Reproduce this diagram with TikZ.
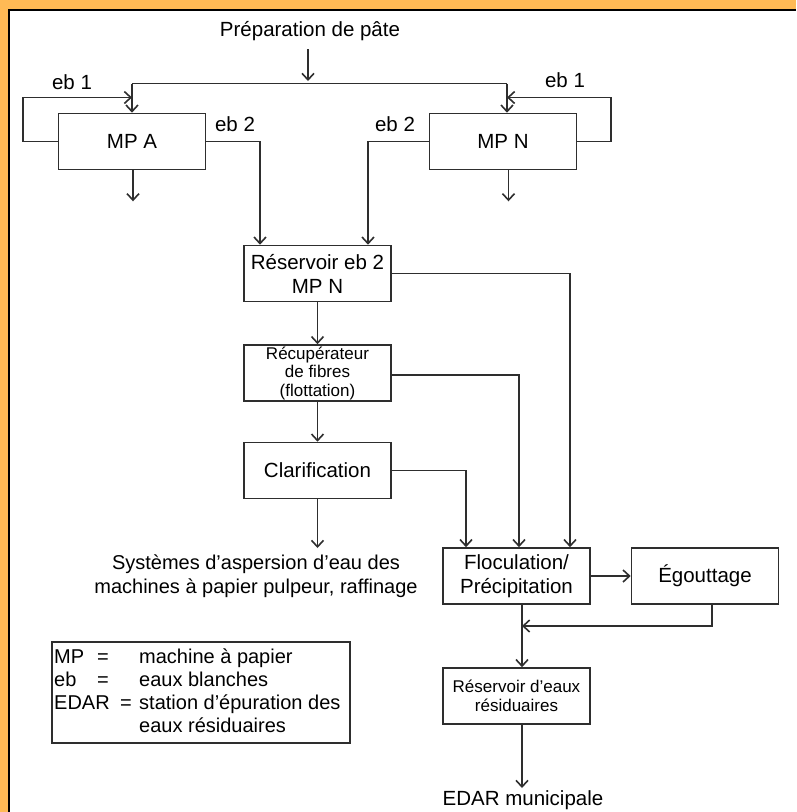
\documentclass[tikz,border=0pt]{standalone}
\usepackage{fontspec}
\setmainfont{Liberation Sans}
\usetikzlibrary{arrows.meta}
\definecolor{bgorange}{HTML}{FFBA55}
\definecolor{ln}{HTML}{2E2E2E}
\newcommand\mainfs{\fontsize{20.5}{24}\selectfont}
\newcommand\sysfs{\fontsize{20}{24}\selectfont}
\newcommand\smallfs{\fontsize{17}{18.5}\selectfont}
\newcommand\legfs{\fontsize{20}{23}\selectfont}
\begin{document}
\begin{tikzpicture}[x=1pt,y=-1pt,
  box/.style={draw=ln, line width=1.6pt, minimum width=147pt, minimum height=56pt, inner sep=1pt, align=center, font=\mainfs},
  txt/.style={inner sep=0pt, align=center, font=\mainfs},
  leg/.style={inner sep=0pt, anchor=base west, font=\legfs},
  ln/.style={draw=ln, line width=1.6pt},
  arr/.style={draw=ln, line width=1.6pt, -{Straight Barb[length=6.5pt,width=12pt]}}]
\useasboundingbox (0,0) rectangle (796,812);
\fill[bgorange] (0,0) rectangle (796,812);
\fill[white] (9,10) rectangle (796,812);
\draw[black, line width=2pt] (9,812) -- (9,10) -- (796,10);

% boxes
\node[box] (mpa) at (132,141.5) {MP A};
\node[box] (mpn) at (503,141.5) {MP N};
\node[box] (res) at (317.5,273.5) {Réservoir eb 2\\MP N};
\node[box,font=\smallfs] (rec) at (317.5,373) {Récupérateur\\de fibres\\(flottation)};
\node[box] (cla) at (317.5,470.5) {Clarification};
\node[box] (flo) at (516.5,576) {Floculation/\\Précipitation};
\node[box] (ego) at (705,576) {Égouttage};
\node[box,font=\smallfs] (rde) at (516.5,696) {Réservoir d’eaux\\résiduaires};

% texts
\node[txt] (prep) at (310,31) {Préparation de pâte};
\node[txt,font=\sysfs] (sys) at (256,576) {Systèmes d’aspersion d’eau des\\machines à papier pulpeur, raffinage};
\node[txt] (edar) at (523,800) {EDAR municipale};
\node[txt] (eb1a) at (72,82) {eb 1};
\node[txt] (eb2a) at (235,124) {eb 2};
\node[txt] (eb2n) at (395,124) {eb 2};
\node[txt] (eb1n) at (565,80) {eb 1};

% coordinates
\coordinate (pa) at (308,49);
\coordinate (pb) at (308,81);
\coordinate (jL) at (132,83.5);
\coordinate (jR) at (507,83.5);
\coordinate (lA) at (23,97.5);
\coordinate (lN) at (611,97.5);
\coordinate (mrg) at (522,626);
\coordinate (sysTip) at (317,548);
\coordinate (edTip) at (522,788);

% connectors
\draw[arr] (pa) -- (pb);
\draw[ln] (jL) -- (jR);
\draw[arr] (jL) -- (jL |- mpa.north);
\draw[arr] (jR) -- (jR |- mpn.north);
\draw[arr] (mpa.west) -| (lA) -- (jL |- lA);
\draw[arr] (mpn.east) -| (lN) -- (jR |- lN);
\draw[arr] ([xshift=1pt]mpa.south) -- ++(0,31);
\draw[arr] ([xshift=5.5pt]mpn.south) -- ++(0,31);
\draw[arr] (mpa.east) -| ([xshift=-57.5pt]res.north);
\draw[arr] (mpn.west) -| ([xshift=50.5pt]res.north);
\draw[arr] (res.east) -| ([xshift=53.5pt]flo.north);
\draw[arr] ([yshift=-2pt]rec.east) -| ([xshift=2.5pt]flo.north);
\draw[arr] (cla.east) -| ([xshift=-50.5pt]flo.north);
\draw[arr] (res) -- (rec);
\draw[arr] (rec) -- (cla);
\draw[arr] (cla.south) -- (cla.south |- sysTip);
\draw[arr] (flo.east) -- (ego.west);
\draw[arr] ([xshift=5.5pt]flo.south) -- ([xshift=5.5pt]rde.north);
\draw[arr] ([xshift=7pt]ego.south) |- (mrg);
\draw[arr] ([xshift=5.5pt]rde.south) -- (edTip);

% legend
\node[draw=ln, line width=1.4pt, minimum width=298pt, minimum height=101pt, inner sep=0pt] (legbox) at (201,692.5) {};
\node[leg] (l1a) at (54,663) {MP};
\node[leg] (l1b) at (97,663) {=};
\node[leg] (l1c) at (139,663) {machine à papier};
\node[leg] (l2a) at (54,686) {eb};
\node[leg] (l2b) at (97,686) {=};
\node[leg] (l2c) at (139,686) {eaux blanches};
\node[leg] (l3a) at (54,709) {EDAR};
\node[leg] (l3b) at (120,709) {=};
\node[leg] (l3c) at (139,709) {station d’épuration des};
\node[leg] (l4c) at (139,732) {eaux résiduaires};
\end{tikzpicture}
\end{document}
